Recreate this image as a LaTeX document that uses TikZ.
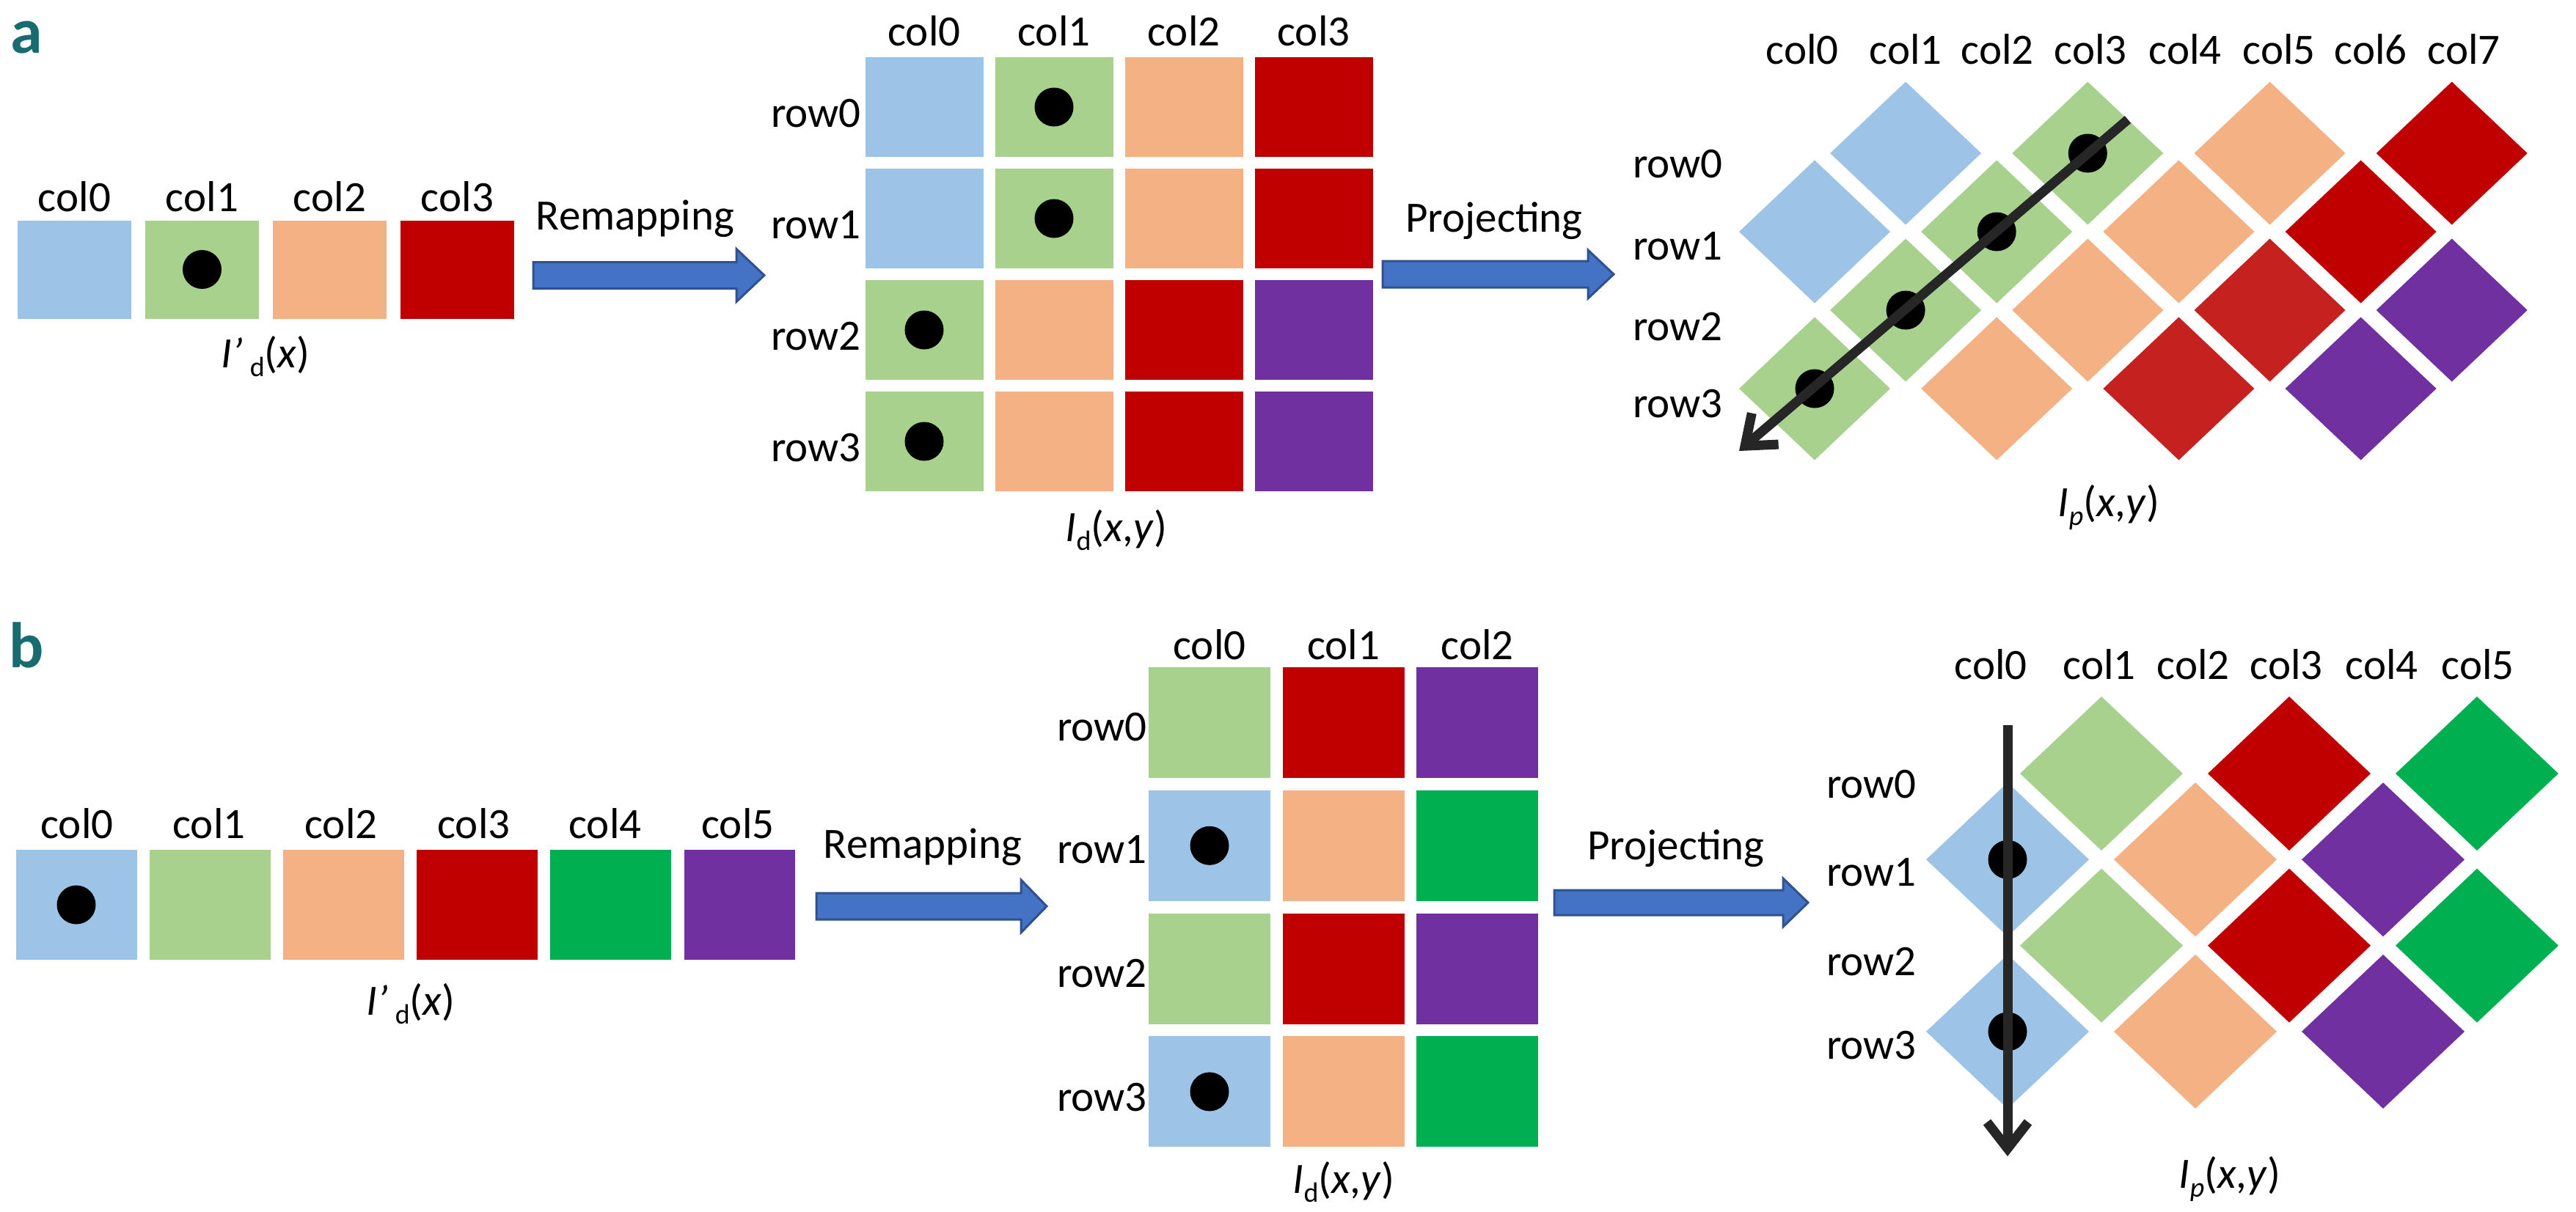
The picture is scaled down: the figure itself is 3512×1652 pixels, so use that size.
\documentclass[tikz,border=0pt]{standalone}
\usepackage{fontspec}
\setmainfont{Carlito}
\usetikzlibrary{shapes.geometric,arrows.meta}
\definecolor{cblue}{HTML}{9DC3E6}
\definecolor{cgreen}{HTML}{A9D18E}
\definecolor{cpeach}{HTML}{F4B183}
\definecolor{cred}{HTML}{C00000}
\definecolor{credl}{HTML}{C5221F}
\definecolor{cpurple}{HTML}{7030A0}
\definecolor{cbgreen}{HTML}{00B050}
\definecolor{arrowblue}{HTML}{4472C4}
\definecolor{arrowedge}{HTML}{2F528F}
\definecolor{darkline}{HTML}{262626}
\definecolor{panelteal}{RGB}{24,108,112}
\newcommand\lblf{\fontsize{59}{70}\selectfont}
\newcommand\subf{\fontsize{38}{40}\selectfont}
\begin{document}
\begin{tikzpicture}[x=1pt,y=-1pt,
  cell/.style={rectangle,draw=none,inner sep=0pt,outer sep=0pt},
  dia/.style={diamond,draw=none,inner sep=0pt,outer sep=0pt},
  dotc/.style={circle,fill=black,draw=none,inner sep=0pt,minimum size=53pt},
  lbl/.style={anchor=base,inner sep=0pt,font=\lblf},
  rowlbl/.style={anchor=base east,inner sep=0pt,font=\lblf},
  panel/.style={anchor=base west,inner sep=0pt,font={\fontsize{88}{88}\selectfont\bfseries},text=panelteal},
  barrow/.style={fill=arrowblue,draw=arrowedge,line width=3pt,line join=miter},
  parr/.style={draw=darkline,line width=13pt,-{Straight Barb[length=36pt,width=56pt]}}
]
\useasboundingbox (0,0) rectangle (3512,1652);

% ---------------- panel a ----------------
\node[panel] (pa) at (14,72) {a};

% strip a
\foreach \c/\col in {0/cblue,1/cgreen,2/cpeach,3/cred}{
  \node[cell,fill=\col,minimum width=155pt,minimum height=134pt] (sa\c) at ({101.5+174*\c},367.5) {};
  \node[lbl] (salc\c) at ({101.5+174*\c},288) {col\c};
}
\node[dotc] (sadot) at (sa1) {};
\node[lbl] (sacap) at (362,501) {\textit{I}\textit{’}\,\raisebox{-12pt}{\subf d}(\textit{x})};

% remapping arrow a
\node[lbl] (remapa) at (866,313) {Remapping};
\draw[barrow] (727,357.5) -- (1004,357.5) -- (1004,339.5) -- (1042,375.5) -- (1004,411.5) -- (1004,393.5) -- (727,393.5) -- cycle;

% middle grid a
\foreach \r/\c/\col in {0/0/cblue,0/1/cgreen,0/2/cpeach,0/3/cred,
                        1/0/cblue,1/1/cgreen,1/2/cpeach,1/3/cred,
                        2/0/cgreen,2/1/cpeach,2/2/cred,2/3/cpurple,
                        3/0/cgreen,3/1/cpeach,3/2/cred,3/3/cpurple}{
  \node[cell,fill=\col,minimum width=161pt,minimum height=136pt] (ma\r\c) at ({1260+177*\c},{146+152*\r}) {};
}
\foreach \c in {0,...,3}{\node[lbl] (malc\c) at ({1260+177*\c},62) {col\c};}
\foreach \r in {0,...,3}{\node[rowlbl] (malr\r) at (1174,{173+152*\r}) {row\r};}
\node[dotc] (madot0) at (ma01) {};
\node[dotc] (madot1) at (ma11) {};
\node[dotc] (madot2) at (ma20) {};
\node[dotc] (madot3) at (ma30) {};
\node[lbl] (macap) at (1522,738) {\textit{I}\raisebox{-12pt}{\subf d}(\textit{x},\textit{y})};

% projecting arrow a
\node[lbl] (proja) at (2037,316) {Projecting};
\draw[barrow] (1885,356) -- (2165,356) -- (2165,341) -- (2200,374) -- (2165,407) -- (2165,392) -- (1885,392) -- cycle;

% diamond grid a
\foreach \k/\r/\col in {1/0/cblue,3/0/cgreen,5/0/cpeach,7/0/cred,
                        0/1/cblue,2/1/cgreen,4/1/cpeach,6/1/cred,
                        1/2/cgreen,3/2/cpeach,5/2/credl,7/2/cpurple,
                        0/3/cgreen,2/3/cpeach,4/3/credl,6/3/cpurple}{
  \node[dia,fill=\col,minimum width=206pt,minimum height=195pt] (da\k\r) at ({2474+124.1*\k},{209+107*\r}) {};
}
\foreach \c/\x in {0/2457,1/2598,2/2723,3/2850,4/2979,5/3107,6/3232,7/3359}{
  \node[lbl] (dalc\c) at (\x,87) {col\c};
}
\foreach \r/\y in {0/242,1/354,2/464,3/569}{
  \node[rowlbl] (dalr\r) at (2349,\y) {row\r};
}
\node[dotc] (dadot0) at (da30) {};
\node[dotc] (dadot1) at (da21) {};
\node[dotc] (dadot2) at (da12) {};
\node[dotc] (dadot3) at (da03) {};
\coordinate (pas) at (2901,163);
\coordinate (pae) at (2371,615);
\draw[parr] (pas) -- (pae);
\node[lbl] (dacap) at (2875,704) {\textit{I}\raisebox{-12pt}{\subf\itshape p}(\textit{x},\textit{y})};

% ---------------- panel b ----------------
\node[panel] (pb) at (12,910) {b};

% strip b
\foreach \c/\col/\x/\w in {0/cblue/104/165,1/cgreen/286.5/165,2/cpeach/468/165,3/cred/650/165,4/cbgreen/832.5/165,5/cpurple/1008.5/151}{
  \node[cell,fill=\col,minimum width=\w pt,minimum height=150pt] (sb\c) at (\x,1234) {};
}
\foreach \c/\x in {0/105,1/285,2/465,3/646,4/825,5/1006}{
  \node[lbl] (sblc\c) at (\x,1143) {col\c};
}
\node[dotc] (sbdot) at (sb0) {};
\node[lbl] (sbcap) at (560,1384) {\textit{I}\textit{’}\,\raisebox{-12pt}{\subf d}(\textit{x})};

% remapping arrow b
\node[lbl] (remapb) at (1258,1170) {Remapping};
\draw[barrow] (1113,1218) -- (1392,1218) -- (1392,1200) -- (1427,1236) -- (1392,1272) -- (1392,1254) -- (1113,1254) -- cycle;

% middle grid b
\foreach \r/\c/\col in {0/0/cgreen,0/1/cred,0/2/cpurple,
                        1/0/cblue,1/1/cpeach,1/2/cbgreen,
                        2/0/cgreen,2/1/cred,2/2/cpurple,
                        3/0/cblue,3/1/cpeach,3/2/cbgreen}{
  \node[cell,fill=\col,minimum width=166pt,minimum height=151pt] (mb\r\c) at ({1649+182.5*\c},{985.5+167.8*\r}) {};
}
\foreach \c in {0,...,2}{\node[lbl] (mblc\c) at ({1649+182.5*\c},899) {col\c};}
\foreach \r/\y in {0/1010,1/1177,2/1346,3/1515}{\node[rowlbl] (mblr\r) at (1564,\y) {row\r};}
\node[dotc] (mbdot1) at (mb10) {};
\node[dotc] (mbdot3) at (mb30) {};
\node[lbl] (mbcap) at (1832,1627) {\textit{I}\raisebox{-12pt}{\subf d}(\textit{x},\textit{y})};

% projecting arrow b
\node[lbl] (projb) at (2285,1172) {Projecting};
\draw[barrow] (2119,1214) -- (2431,1214) -- (2431,1198) -- (2465,1231) -- (2431,1264) -- (2431,1248) -- (2119,1248) -- cycle;

% diamond grid b
\foreach \k/\r/\col in {1/0/cgreen,3/0/cred,5/0/cbgreen,
                        0/1/cblue,2/1/cpeach,4/1/cpurple,
                        1/2/cgreen,3/2/cred,5/2/cbgreen,
                        0/3/cblue,2/3/cpeach,4/3/cpurple}{
  \node[dia,fill=\col,minimum width=222pt,minimum height=210pt] (db\k\r) at ({2737+128*\k},{1055+117.3*\r}) {};
}
\foreach \c/\x in {0/2714,1/2862,2/2990,3/3117,4/3247,5/3378}{
  \node[lbl] (dblc\c) at (\x,926) {col\c};
}
\foreach \r/\y in {0/1088,1/1208,2/1330,3/1444}{
  \node[rowlbl] (dblr\r) at (2613,\y) {row\r};
}
\node[dotc] (dbdot1) at (db01) {};
\node[dotc] (dbdot3) at (db03) {};
\coordinate (pbs) at (2737,989);
\coordinate (pbe) at (2737,1577);
\draw[parr] (pbs) -- (pbe);
\node[lbl] (dbcap) at (3040,1620) {\textit{I}\raisebox{-12pt}{\subf\itshape p}(\textit{x},\textit{y})};

\end{tikzpicture}
\end{document}
